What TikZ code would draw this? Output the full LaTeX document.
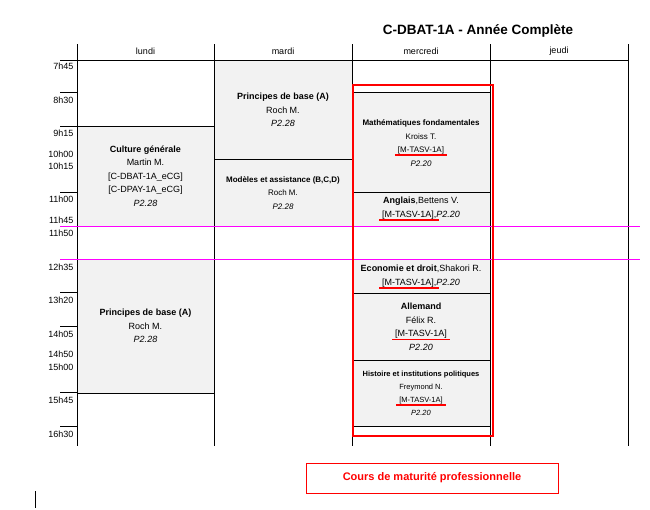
\documentclass[tikz,border=0pt]{standalone}
\usepackage{fontspec}
\setmainfont{Liberation Sans}
\definecolor{cellgray}{HTML}{F2F2F2}
\definecolor{mred}{HTML}{FF0000}
\definecolor{pinkline}{HTML}{FF00FF}
\newsavebox{\ulbox}
\newcommand{\redul}[1]{\sbox{\ulbox}{#1}\leavevmode\rlap{\hspace{-3pt}\textcolor{mred}{\rule[-3.5pt]{\dimexpr\wd\ulbox+6pt\relax}{1.8pt}}}\usebox{\ulbox}}
\begin{document}
\begin{tikzpicture}[x=1pt,y=-1pt,
  cell/.style={fill=cellgray,draw=black,line width=0.7pt},
  txt/.style={align=center,font=\fontsize{9}{13.5}\selectfont},
  tlab/.style={anchor=east,font=\fontsize{9}{10}\selectfont},
  grid/.style={line width=0.7pt}]
\useasboundingbox (0,0) rectangle (650,509);
% title
\node[font=\bfseries\fontsize{13.5}{15}\selectfont] (title) at (478,31) {C-DBAT-1A - Année Complète};
% cells
\draw[cell] (77,126) rectangle (214,226);
\draw[cell] (77,259) rectangle (214,393);
\draw[cell] (214,60) rectangle (352,159);
\draw[cell] (214,159) rectangle (352,226);
\draw[cell] (352,92) rectangle (490,192);
\draw[cell] (352,192) rectangle (490,226);
\draw[cell] (352,259) rectangle (490,293);
\draw[cell] (352,293) rectangle (490,360);
\draw[cell] (352,360) rectangle (490,426);
% grid
\foreach \x in {77,214,352,490,628} \draw[grid] (\x,44) -- (\x,446);
\draw[grid] (60,60) -- (628,60);
\foreach \y in {92,126,192,259,292,326,392,426} \draw[grid] (60,\y) -- (77,\y);
% headers
\foreach \x/\d in {145.5/lundi,283/mardi,421/mercredi,559/jeudi}
  \node[font=\fontsize{9}{10}\selectfont] at (\x,51) {\d};
% times
\foreach \y/\t in {66/7h45,100/8h30,133/9h15,154/10h00,166/10h15,199/11h00,220/11h45,233/11h50,267/12h35,300/13h20,334/14h05,354/14h50,367/15h00,400/15h45,434/16h30}
  \node[tlab] at (77,\y) {\t};
% lunch lines
\draw[pinkline,line width=0.6pt] (60,226) -- (640,226);
\draw[pinkline,line width=0.6pt] (60,259) -- (640,259);
% texts
\node[txt] (cg) at (145.5,176) {\textbf{Culture générale}\\Martin M.\\{[C-DBAT-1A\_eCG]}\\{[C-DPAY-1A\_eCG]}\\\textit{P2.28}};
\node[txt] (pb1) at (145.5,326) {\textbf{Principes de base (A)}\\Roch M.\\\textit{P2.28}};
\node[txt] (pb2) at (283,110) {\textbf{Principes de base (A)}\\Roch M.\\\textit{P2.28}};
\node[txt,font=\fontsize{8}{13.5}\selectfont] (mod) at (283,193) {\textbf{Modèles et assistance (B,C,D)}\\Roch M.\\\textit{P2.28}};
\node[txt,font=\fontsize{8}{13.5}\selectfont] (math) at (421,143) {\textbf{Mathématiques fondamentales}\\Kroiss T.\\\redul{[M-TASV-1A]}\\\textit{P2.20}};
\node[txt] (ang) at (421,209) {\textbf{Anglais},Bettens V.\\\redul{[M-TASV-1A],}\textit{P2.20}};
\node[txt] (eco) at (421,277) {\textbf{Economie et droit},Shakori R.\\\redul{[M-TASV-1A],}\textit{P2.20}};
\node[txt] (all) at (421,327) {\textbf{Allemand}\\Félix R.\\\redul{[M-TASV-1A]}\\\textit{P2.20}};
\node[txt,font=\fontsize{7.5}{13}\selectfont] (hist) at (421,393) {\textbf{Histoire et institutions politiques}\\Freymond N.\\\redul{[M-TASV-1A]}\\\textit{P2.20}};
% red frame
\draw[mred,line width=2.2pt] (353,85) rectangle (493,436);
% legend box
\node[draw=mred,line width=0.8pt,text=mred,minimum width=252pt,minimum height=30pt,font=\bfseries\fontsize{11}{12}\selectfont] (leg) at (432,478) {Cours de maturité professionnelle};
\draw[line width=0.6pt] (35,491) -- (35,508);
\end{tikzpicture}
\end{document}
